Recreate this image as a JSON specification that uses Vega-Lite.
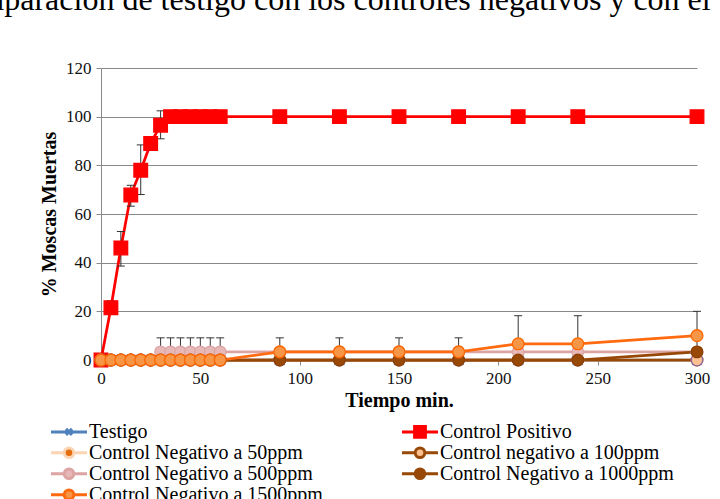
{
  "$schema": "https://vega.github.io/schema/vega-lite/v6.json",
  "width": 596,
  "height": 292,
  "autosize": {"type": "none"},
  "padding": {"left": 101, "top": 68, "right": 23, "bottom": 139},
  "background": "white",
  "title": {
    "text": "Comparación de testigo con los controles negativos y con el",
    "anchor": "start",
    "frame": "group",
    "font": "Liberation Serif",
    "fontSize": 32,
    "fontWeight": "normal",
    "color": "#000000",
    "baseline": "alphabetic",
    "offset": 0,
    "dx": -159,
    "dy": -17
  },
  "config": {"view": {"stroke": null}, "font": "Liberation Serif"},
  "datasets": {
    "series": [
      {"t": 0, "s": "Testigo", "v": 0}, {"t": 5, "s": "Testigo", "v": 0}, {"t": 10, "s": "Testigo", "v": 0}, {"t": 15, "s": "Testigo", "v": 0}, {"t": 20, "s": "Testigo", "v": 0}, {"t": 25, "s": "Testigo", "v": 0}, {"t": 30, "s": "Testigo", "v": 0}, {"t": 35, "s": "Testigo", "v": 0}, {"t": 40, "s": "Testigo", "v": 0}, {"t": 45, "s": "Testigo", "v": 0}, {"t": 50, "s": "Testigo", "v": 0}, {"t": 55, "s": "Testigo", "v": 0}, {"t": 60, "s": "Testigo", "v": 0}, {"t": 90, "s": "Testigo", "v": 0}, {"t": 120, "s": "Testigo", "v": 0}, {"t": 150, "s": "Testigo", "v": 0}, {"t": 180, "s": "Testigo", "v": 0}, {"t": 210, "s": "Testigo", "v": 0}, {"t": 240, "s": "Testigo", "v": 0}, {"t": 300, "s": "Testigo", "v": 0},
      {"t": 0, "s": "Control Positivo", "v": 0}, {"t": 5, "s": "Control Positivo", "v": 21.5}, {"t": 10, "s": "Control Positivo", "v": 46}, {"t": 15, "s": "Control Positivo", "v": 67.8}, {"t": 20, "s": "Control Positivo", "v": 78}, {"t": 25, "s": "Control Positivo", "v": 89}, {"t": 30, "s": "Control Positivo", "v": 96.5}, {"t": 35, "s": "Control Positivo", "v": 100}, {"t": 40, "s": "Control Positivo", "v": 100}, {"t": 45, "s": "Control Positivo", "v": 100}, {"t": 50, "s": "Control Positivo", "v": 100}, {"t": 55, "s": "Control Positivo", "v": 100}, {"t": 60, "s": "Control Positivo", "v": 100}, {"t": 90, "s": "Control Positivo", "v": 100}, {"t": 120, "s": "Control Positivo", "v": 100}, {"t": 150, "s": "Control Positivo", "v": 100}, {"t": 180, "s": "Control Positivo", "v": 100}, {"t": 210, "s": "Control Positivo", "v": 100}, {"t": 240, "s": "Control Positivo", "v": 100}, {"t": 300, "s": "Control Positivo", "v": 100},
      {"t": 0, "s": "Control Negativo a 50ppm", "v": 0}, {"t": 5, "s": "Control Negativo a 50ppm", "v": 0}, {"t": 10, "s": "Control Negativo a 50ppm", "v": 0}, {"t": 15, "s": "Control Negativo a 50ppm", "v": 0}, {"t": 20, "s": "Control Negativo a 50ppm", "v": 0}, {"t": 25, "s": "Control Negativo a 50ppm", "v": 0}, {"t": 30, "s": "Control Negativo a 50ppm", "v": 0}, {"t": 35, "s": "Control Negativo a 50ppm", "v": 0}, {"t": 40, "s": "Control Negativo a 50ppm", "v": 0}, {"t": 45, "s": "Control Negativo a 50ppm", "v": 0}, {"t": 50, "s": "Control Negativo a 50ppm", "v": 0}, {"t": 55, "s": "Control Negativo a 50ppm", "v": 0}, {"t": 60, "s": "Control Negativo a 50ppm", "v": 0}, {"t": 90, "s": "Control Negativo a 50ppm", "v": 0}, {"t": 120, "s": "Control Negativo a 50ppm", "v": 0}, {"t": 150, "s": "Control Negativo a 50ppm", "v": 0}, {"t": 180, "s": "Control Negativo a 50ppm", "v": 0}, {"t": 210, "s": "Control Negativo a 50ppm", "v": 0}, {"t": 240, "s": "Control Negativo a 50ppm", "v": 0}, {"t": 300, "s": "Control Negativo a 50ppm", "v": 0},
      {"t": 0, "s": "Control negativo a 100ppm", "v": 0}, {"t": 5, "s": "Control negativo a 100ppm", "v": 0}, {"t": 10, "s": "Control negativo a 100ppm", "v": 0}, {"t": 15, "s": "Control negativo a 100ppm", "v": 0}, {"t": 20, "s": "Control negativo a 100ppm", "v": 0}, {"t": 25, "s": "Control negativo a 100ppm", "v": 0}, {"t": 30, "s": "Control negativo a 100ppm", "v": 0}, {"t": 35, "s": "Control negativo a 100ppm", "v": 0}, {"t": 40, "s": "Control negativo a 100ppm", "v": 0}, {"t": 45, "s": "Control negativo a 100ppm", "v": 0}, {"t": 50, "s": "Control negativo a 100ppm", "v": 0}, {"t": 55, "s": "Control negativo a 100ppm", "v": 0}, {"t": 60, "s": "Control negativo a 100ppm", "v": 0}, {"t": 90, "s": "Control negativo a 100ppm", "v": 0}, {"t": 120, "s": "Control negativo a 100ppm", "v": 0}, {"t": 150, "s": "Control negativo a 100ppm", "v": 0}, {"t": 180, "s": "Control negativo a 100ppm", "v": 0}, {"t": 210, "s": "Control negativo a 100ppm", "v": 0}, {"t": 240, "s": "Control negativo a 100ppm", "v": 0}, {"t": 300, "s": "Control negativo a 100ppm", "v": 0},
      {"t": 0, "s": "Control Negativo a 500ppm", "v": 0}, {"t": 5, "s": "Control Negativo a 500ppm", "v": 0}, {"t": 10, "s": "Control Negativo a 500ppm", "v": 0}, {"t": 15, "s": "Control Negativo a 500ppm", "v": 0}, {"t": 20, "s": "Control Negativo a 500ppm", "v": 0}, {"t": 25, "s": "Control Negativo a 500ppm", "v": 0}, {"t": 30, "s": "Control Negativo a 500ppm", "v": 3.33}, {"t": 35, "s": "Control Negativo a 500ppm", "v": 3.33}, {"t": 40, "s": "Control Negativo a 500ppm", "v": 3.33}, {"t": 45, "s": "Control Negativo a 500ppm", "v": 3.33}, {"t": 50, "s": "Control Negativo a 500ppm", "v": 3.33}, {"t": 55, "s": "Control Negativo a 500ppm", "v": 3.33}, {"t": 60, "s": "Control Negativo a 500ppm", "v": 3.33}, {"t": 90, "s": "Control Negativo a 500ppm", "v": 3.33}, {"t": 120, "s": "Control Negativo a 500ppm", "v": 3.33}, {"t": 150, "s": "Control Negativo a 500ppm", "v": 3.33}, {"t": 180, "s": "Control Negativo a 500ppm", "v": 3.33}, {"t": 210, "s": "Control Negativo a 500ppm", "v": 3.33}, {"t": 240, "s": "Control Negativo a 500ppm", "v": 3.33}, {"t": 300, "s": "Control Negativo a 500ppm", "v": 3.33},
      {"t": 0, "s": "Control Negativo a 1000ppm", "v": 0}, {"t": 5, "s": "Control Negativo a 1000ppm", "v": 0}, {"t": 10, "s": "Control Negativo a 1000ppm", "v": 0}, {"t": 15, "s": "Control Negativo a 1000ppm", "v": 0}, {"t": 20, "s": "Control Negativo a 1000ppm", "v": 0}, {"t": 25, "s": "Control Negativo a 1000ppm", "v": 0}, {"t": 30, "s": "Control Negativo a 1000ppm", "v": 0}, {"t": 35, "s": "Control Negativo a 1000ppm", "v": 0}, {"t": 40, "s": "Control Negativo a 1000ppm", "v": 0}, {"t": 45, "s": "Control Negativo a 1000ppm", "v": 0}, {"t": 50, "s": "Control Negativo a 1000ppm", "v": 0}, {"t": 55, "s": "Control Negativo a 1000ppm", "v": 0}, {"t": 60, "s": "Control Negativo a 1000ppm", "v": 0}, {"t": 90, "s": "Control Negativo a 1000ppm", "v": 0}, {"t": 120, "s": "Control Negativo a 1000ppm", "v": 0}, {"t": 150, "s": "Control Negativo a 1000ppm", "v": 0}, {"t": 180, "s": "Control Negativo a 1000ppm", "v": 0}, {"t": 210, "s": "Control Negativo a 1000ppm", "v": 0}, {"t": 240, "s": "Control Negativo a 1000ppm", "v": 0}, {"t": 300, "s": "Control Negativo a 1000ppm", "v": 3.33},
      {"t": 0, "s": "Control Negativo a 1500ppm", "v": 0}, {"t": 5, "s": "Control Negativo a 1500ppm", "v": 0}, {"t": 10, "s": "Control Negativo a 1500ppm", "v": 0}, {"t": 15, "s": "Control Negativo a 1500ppm", "v": 0}, {"t": 20, "s": "Control Negativo a 1500ppm", "v": 0}, {"t": 25, "s": "Control Negativo a 1500ppm", "v": 0}, {"t": 30, "s": "Control Negativo a 1500ppm", "v": 0}, {"t": 35, "s": "Control Negativo a 1500ppm", "v": 0}, {"t": 40, "s": "Control Negativo a 1500ppm", "v": 0}, {"t": 45, "s": "Control Negativo a 1500ppm", "v": 0}, {"t": 50, "s": "Control Negativo a 1500ppm", "v": 0}, {"t": 55, "s": "Control Negativo a 1500ppm", "v": 0}, {"t": 60, "s": "Control Negativo a 1500ppm", "v": 0}, {"t": 90, "s": "Control Negativo a 1500ppm", "v": 3.33}, {"t": 120, "s": "Control Negativo a 1500ppm", "v": 3.33}, {"t": 150, "s": "Control Negativo a 1500ppm", "v": 3.33}, {"t": 180, "s": "Control Negativo a 1500ppm", "v": 3.33}, {"t": 210, "s": "Control Negativo a 1500ppm", "v": 6.67}, {"t": 240, "s": "Control Negativo a 1500ppm", "v": 6.67}, {"t": 300, "s": "Control Negativo a 1500ppm", "v": 10}
    ],
    "err": [
      {"t": 5, "s": "Control Positivo", "lo": 18.8, "hi": 24.3},
      {"t": 10, "s": "Control Positivo", "lo": 38.6, "hi": 52.8},
      {"t": 15, "s": "Control Positivo", "lo": 63.2, "hi": 71.8},
      {"t": 20, "s": "Control Positivo", "lo": 68, "hi": 88.4},
      {"t": 30, "s": "Control Positivo", "lo": 90.9, "hi": 102.4},
      {"t": 30, "s": "Control Negativo a 500ppm", "lo": 3.33, "hi": 9.1},
      {"t": 35, "s": "Control Negativo a 500ppm", "lo": 3.33, "hi": 9.1},
      {"t": 40, "s": "Control Negativo a 500ppm", "lo": 3.33, "hi": 9.1},
      {"t": 45, "s": "Control Negativo a 500ppm", "lo": 3.33, "hi": 9.1},
      {"t": 50, "s": "Control Negativo a 500ppm", "lo": 3.33, "hi": 9.1},
      {"t": 55, "s": "Control Negativo a 500ppm", "lo": 3.33, "hi": 9.1},
      {"t": 60, "s": "Control Negativo a 500ppm", "lo": 3.33, "hi": 9.1},
      {"t": 90, "s": "Control Negativo a 1500ppm", "lo": 3.33, "hi": 9.1},
      {"t": 120, "s": "Control Negativo a 1500ppm", "lo": 3.33, "hi": 9.1},
      {"t": 150, "s": "Control Negativo a 1500ppm", "lo": 3.33, "hi": 9.1},
      {"t": 180, "s": "Control Negativo a 1500ppm", "lo": 3.33, "hi": 9.1},
      {"t": 210, "s": "Control Negativo a 1500ppm", "lo": 6.67, "hi": 18.2},
      {"t": 240, "s": "Control Negativo a 1500ppm", "lo": 6.67, "hi": 18.2},
      {"t": 300, "s": "Control Negativo a 1500ppm", "lo": 10, "hi": 20},
      {"t": 300, "s": "Control Negativo a 1000ppm", "lo": 3.33, "hi": 9.1}
    ]
  },
  "encoding": {
    "x": {
      "field": "t", "type": "quantitative",
      "scale": {"domain": [0, 300], "nice": false},
      "axis": {
        "values": [0, 50, 100, 150, 200, 250, 300],
        "grid": false, "tickSize": 5, "domainColor": "#898989", "tickColor": "#898989",
        "labelFont": "Liberation Serif", "labelFontSize": 17, "labelColor": "#111111", "labelPadding": 5,
        "labelFlush": false, "labelOverlap": false,
        "title": "Tiempo min.", "titleFont": "Liberation Serif", "titleFontSize": 20, "titleFontWeight": "bold", "titleColor": "#000000", "titlePadding": 4
      }
    }
  },
  "layer": [
    {
      "data": {"name": "series"},
      "mark": {"type": "line", "strokeWidth": 2.75},
      "encoding": {
        "y": {
          "field": "v", "type": "quantitative",
          "scale": {"domain": [0, 120], "nice": false},
          "axis": {
            "values": [0, 20, 40, 60, 80, 100, 120],
            "grid": true, "gridColor": "#898989", "tickSize": 5, "domainColor": "#898989", "tickColor": "#898989",
            "labelFont": "Liberation Serif", "labelFontSize": 17, "labelColor": "#111111", "labelPadding": 5,
            "title": "% Moscas Muertas", "titleFont": "Liberation Serif", "titleFontSize": 20, "titleFontWeight": "bold", "titleColor": "#000000", "titlePadding": 6
          }
        },
        "stroke": {
          "field": "s", "type": "nominal",
          "sort": null,
          "scale": {"range": ["#4F81BD", "#FF0000", "#FBD4B4", "#984807", "#DDA4A4", "#974706", "#FF6A10"]},
          "legend": {
            "orient": "none", "legendX": -54, "legendY": 354, "direction": "horizontal", "columns": 2, "columnPadding": 75, "rowPadding": 0, "padding": 0,
            "clipHeight": 19.5,
            "title": null,
            "symbolType": "M-1,0H5", "symbolSize": 144, "symbolStrokeWidth": 3,
            "labelFont": "Liberation Serif", "labelFontSize": 20, "labelColor": "#000000", "labelLimit": 400, "labelOffset": 22,
            "encode": {
              "symbols": {
                "update": {
                  "size": {"value": 144},
                  "strokeWidth": {"value": 3},
                  "opacity": {"value": 1},
                  "shape": {"signal": "datum.value === 'Testigo' ? 'M-1,0H5M1.5,-0.5L2.5,0.5M1.5,0.5L2.5,-0.5' : datum.value === 'Control Positivo' ? 'M-1,0H1.1M2.9,0H5M1.1,-0.9H2.9V0.9H1.1Z' : 'M-1,0H1.2M2.8,0H5M1.2,0A0.8,0.8 0 1,0 2.8,0A0.8,0.8 0 1,0 1.2,0Z'"},
                  "fill": {"signal": "datum.value === 'Testigo' ? 'transparent' : datum.value === 'Control Positivo' ? '#FF0000' : datum.value === 'Control Negativo a 50ppm' ? '#E46C0A' : datum.value === 'Control negativo a 100ppm' ? '#FAC090' : datum.value === 'Control Negativo a 500ppm' ? '#E6B9B8' : datum.value === 'Control Negativo a 1000ppm' ? '#984807' : '#F79646'"}
                }
              }
            }
          }
        }
      }
    },
    {
      "data": {"name": "err"},
      "mark": {"type": "rule", "color": "#333333", "strokeWidth": 1},
      "encoding": {
        "y": {"field": "lo", "type": "quantitative"},
        "y2": {"field": "hi"}
      }
    },
    {
      "data": {"name": "err"},
      "mark": {"type": "point", "shape": "stroke", "size": 64, "stroke": "#333333", "strokeWidth": 1, "opacity": 1},
      "encoding": {
        "y": {"field": "hi", "type": "quantitative"}
      }
    },
    {
      "data": {"name": "err"},
      "transform": [{"filter": "datum.s === 'Control Positivo'"}],
      "mark": {"type": "point", "shape": "stroke", "size": 64, "stroke": "#333333", "strokeWidth": 1, "opacity": 1},
      "encoding": {
        "y": {"field": "lo", "type": "quantitative"}
      }
    },
    {
      "data": {"name": "series"},
      "mark": {"type": "point", "filled": false, "opacity": 1, "strokeWidth": 1.3},
      "encoding": {
        "y": {"field": "v", "type": "quantitative"},
        "fill": {
          "field": "s", "type": "nominal",
          "scale": {
            "domain": ["Testigo", "Control Positivo", "Control Negativo a 50ppm", "Control negativo a 100ppm", "Control Negativo a 500ppm", "Control Negativo a 1000ppm", "Control Negativo a 1500ppm"],
            "range": ["#95B3D7", "#FF0000", "#E46C0A", "#FAC090", "#E6B9B8", "#984807", "#F79646"]
          },
          "legend": null
        },
        "color": {
          "field": "s", "type": "nominal",
          "scale": {
            "domain": ["Testigo", "Control Positivo", "Control Negativo a 50ppm", "Control negativo a 100ppm", "Control Negativo a 500ppm", "Control Negativo a 1000ppm", "Control Negativo a 1500ppm"],
            "range": ["#6F9BD1", "#FF0000", "#E46C0A", "#8064A2", "#DDA4A4", "#8B4000", "#FF6600"]
          },
          "legend": null
        },
        "shape": {
          "field": "s", "type": "nominal",
          "scale": {
            "domain": ["Testigo", "Control Positivo", "Control Negativo a 50ppm", "Control negativo a 100ppm", "Control Negativo a 500ppm", "Control Negativo a 1000ppm", "Control Negativo a 1500ppm"],
            "range": ["M-1,-1L1,1M-1,1L1,-1", "square", "circle", "circle", "circle", "circle", "circle"]
          },
          "legend": null
        },
        "size": {
          "field": "s", "type": "nominal",
          "scale": {
            "type": "ordinal",
            "domain": ["Testigo", "Control Positivo", "Control Negativo a 50ppm", "Control negativo a 100ppm", "Control Negativo a 500ppm", "Control Negativo a 1000ppm", "Control Negativo a 1500ppm"],
            "range": [100, 185, 135, 135, 135, 135, 140]
          },
          "legend": null
        }
      }
    }
  ]
}
